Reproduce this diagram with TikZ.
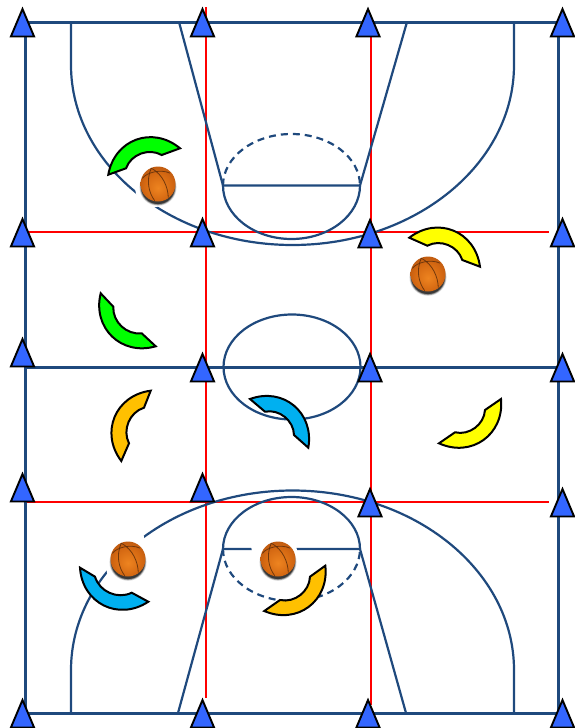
\documentclass[tikz,border=0pt]{standalone}
\usepackage{tikz}
\definecolor{courtline}{HTML}{1F497D}
\definecolor{redline}{HTML}{FF0000}
\definecolor{conefill}{HTML}{3366FF}
\definecolor{padgreen}{HTML}{00FF00}
\definecolor{padyellow}{HTML}{FFFF00}
\definecolor{padorange}{HTML}{FFC000}
\definecolor{padblue}{HTML}{00B0F0}
\definecolor{ballhi}{HTML}{EE8420}
\definecolor{ballmid}{HTML}{D46812}
\definecolor{balledge}{HTML}{A84C0E}
\definecolor{balldark}{HTML}{5E2E0A}
\pgfdeclareradialshading{orangeball}{\pgfpoint{0bp}{-6bp}}{color(0bp)=(ballhi);color(20bp)=(ballmid);color(38bp)=(balledge);color(52bp)=(balldark)}
\tikzset{
  basket/.pic={
    \fill[white,rotate=13] (-23.5,-22) rectangle (20.5,22);
    \foreach \r/\o in {18.6/.12,18/.2,17.4/.35,16.8/.5} \fill[black,opacity=\o] (0,3.2) circle[radius=\r pt];
    \shade[shading=orangeball] (0,0) circle[radius=17.5pt];
    \draw[balldark,line width=.8pt,opacity=.85,rotate=13] (-3,-17) .. controls (-11,-6) and (-11,6) .. (-7,15.5);
    \draw[balldark,line width=.8pt,opacity=.85,rotate=13] (-3,-17) .. controls (7,-8) and (9,5) .. (7,15.5);
    \draw[balldark,line width=.8pt,opacity=.85,rotate=13] (-14,-9) .. controls (-8,-14) and (6,-14) .. (14,-8);
  }
}
\begin{document}
\begin{tikzpicture}[x=1pt,y=-1pt,
  court/.style={courtline,line width=2.2pt},
  border/.style={courtline,line width=3pt},
  grid/.style={redline,line width=1.8pt},
  cone/.style={draw=black,fill=conefill,line width=1.9pt},
  pad/.style={draw=black,line width=2pt},
  outl/.style={bend left=60,looseness=1.2},
  outr/.style={bend right=60,looseness=1.2},
  innl/.style={bend left=50,looseness=1},
  innr/.style={bend right=50,looseness=1}]
\useasboundingbox (0,0) rectangle (575,728);
% red grid
\draw[grid] (206,7)--(206,698);
\draw[grid] (371,30)--(371,705);
\draw[grid] (25,232)--(549,232);
\draw[grid] (25,502)--(549,502);
% court
\draw[border] (25,22) rectangle (558,713);
\draw[border] (25,367)--(558,367);
\draw[court] (292,367) circle[x radius=68.5pt,y radius=52.5pt];
% top half
\draw[court] (71,22)--(71,65) arc[start angle=180,end angle=360,x radius=221.5pt,y radius=180pt]--(514,22);
\draw[court] (179,22)--(223,185.5)--(360,185.5)--(407,22);
\draw[court] (223,185.5) arc[start angle=180,end angle=360,x radius=68.5pt,y radius=53.5pt];
\draw[court,dash pattern=on 7pt off 5pt] (223,185.5) arc[start angle=180,end angle=0,x radius=68.5pt,y radius=51.5pt];
% bottom half
\draw[court] (71,713)--(71,670) arc[start angle=180,end angle=0,x radius=221.5pt,y radius=179.5pt]--(514,713);
\draw[court] (178,713)--(223,549)--(360,549)--(406,713);
\draw[court] (223,549) arc[start angle=180,end angle=0,x radius=68.5pt,y radius=52pt];
\draw[court,dash pattern=on 7pt off 5pt] (223,549) arc[start angle=180,end angle=360,x radius=68.5pt,y radius=52pt];
% balls
\foreach \x/\y in {158/184,428/274,128/559,278/559} \pic at (\x,\y) {basket};
% cones
\foreach \x/\y in {22.5/9,202.5/9,368/9,562.5/9,
  22.5/219,202.5/219,370/220,562.5/219,
  22.5/339,202.5/354,370/354,562.5/354,
  22.5/474,202.5/474,370/489,562.5/489,
  22.5/700,202.5/700,368/700,562.5/700}
  \draw[cone] (\x,\y)--++(-11.6,27.5)--++(23.2,0)--cycle;
% pads
\draw[pad,fill=padgreen] (108.3,174.7) to[outl] (180,148.3)--(161.7,155) to[innr] (126,168.3)--cycle;
\draw[pad,fill=padyellow] (409.3,237.7) to[outl] (480,266.7)--(462.3,260) to[innr] (427.3,245.7)--cycle;
\draw[pad,fill=padgreen] (100.7,293.3) to[outr] (155.7,346.3)--(141.7,333.3) to[innl] (113.3,306.7)--cycle;
\draw[pad,fill=padorange] (150.7,390.7) to[outr] (121.3,461)--(129,443.3) to[innl] (144,407.7)--cycle;
\draw[pad,fill=padblue] (250,399) to[outl] (308.3,447.7)--(294,435) to[innr] (265,411.7)--cycle;
\draw[pad,fill=padyellow] (439,443.3) to[outr] (501,399)--(485,410) to[innl] (455,432.3)--cycle;
\draw[pad,fill=padblue] (80,567.7) to[outr] (148.3,601.7)--(131.7,592.7) to[innl] (95,576.7)--cycle;
\draw[pad,fill=padorange] (264.3,611) to[outr] (325.3,565.7)--(310,576.7) to[innl] (280,600)--cycle;
\end{tikzpicture}
\end{document}
